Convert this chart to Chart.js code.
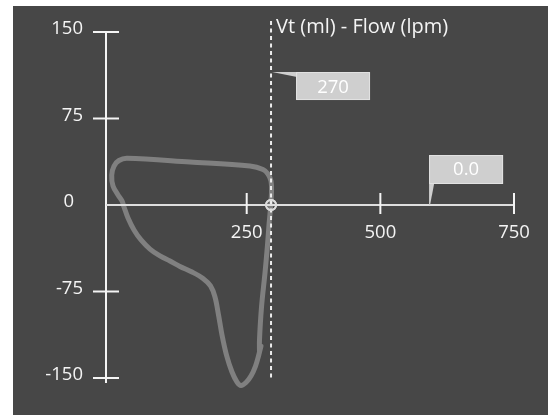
<!DOCTYPE html>
<html>
<head>
<meta charset="utf-8">
<script src="https://cdn.jsdelivr.net/npm/chart.js@4/dist/chart.umd.min.js"></script>
<style>
  html, body { margin: 0; padding: 0; background: #ffffff; }
  #wrap { width: 548px; height: 415px; }
</style>
</head>
<body>
<div id="wrap"><canvas id="c" width="548" height="415"></canvas></div>
<script>
// ---------- data ----------
const chartTitle = "Vt (ml) - Flow (lpm)";
const xTickValues = [250, 500, 750];
const xTickLabels = ["250", "500", "750"];
const yTickValues = [150, 75, 0, -75, -150];
const yTickLabels = ["150", "75", "0", "-75", "-150"];

// Volume (ml) / flow (lpm) loop
const loopVolume = [273.9, 273.9, 277.7, 284.2, 288.9, 291.7, 294.5, 296.4, 295.5, 289.8,
  280.5, 256.2, 143.9, 26.1, 11.1, 1.8, -2.5, -0.1, 9.3, 16.7,
  20.5, 28.0, 39.2, 52.3, 69.1, 87.8, 106.5, 125.2, 147.7, 168.3,
  182.3, 190.7, 197.3, 203.8, 212.2, 222.5, 231.9, 239.3, 248.7, 258.0,
  266.5, 272.1, 276.7];
const loopFlow = [-127.5, -117.1, -88.4, -59.0, -34.7, -17.3, -2.6, 11.3, 20.8, 26.9,
  30.8, 33.8, 37.3, 40.5, 38.6, 33.8, 26.0, 16.5, 8.7, 3.5,
  -1.7, -11.3, -21.7, -30.3, -38.2, -44.2, -48.6, -53.3, -58.1, -63.7,
  -70.2, -79.8, -95.4, -112.7, -130.1, -144.8, -153.5, -156.5, -153.9, -148.3,
  -139.6, -130.9, -122.3];

// cursor
const cursorVolume = [295.5];
const cursorFlow = [0];
const cursorLineFlow = [159.5, -150];
const readoutVolume = "270";
const readoutFlow = "0.0";
const flowReadoutAnchorVolume = 593;
const volumeReadoutAnchorFlow = 115.3;

// ---------- styles ----------
const BG_DARK = "#474747";
const AXIS_COLOR = "#f4f4f4";
const ZERO_COLOR = "#dedede";
const CURVE_COLOR = "#808080";
const FONT = "'Open Sans', 'DejaVu Sans', sans-serif";

const loopData = loopVolume.map((v, i) => ({ x: v, y: loopFlow[i] }));
const cursorData = cursorVolume.map((v, i) => ({ x: v, y: cursorFlow[i] }));
const cursorLine = cursorLineFlow.map(f => ({ x: cursorVolume[0], y: f }));

const backgroundPlugin = {
  id: "bg",
  beforeDraw(chart) {
    const ctx = chart.ctx;
    ctx.save();
    ctx.fillStyle = "#ffffff";
    ctx.fillRect(0, 0, chart.width, chart.height);
    ctx.fillStyle = BG_DARK;
    ctx.fillRect(13, 6, chart.width - 13, chart.height - 6);
    ctx.restore();
  }
};

const axesPlugin = {
  id: "customAxes",
  afterDatasetsDraw(chart) {
    const ctx = chart.ctx;
    const xs = chart.scales.x, ys = chart.scales.y;
    const ca = chart.chartArea;
    const y0 = ys.getPixelForValue(0);
    ctx.save();
    // y axis
    ctx.strokeStyle = AXIS_COLOR;
    ctx.lineWidth = 2;
    ctx.beginPath();
    ctx.moveTo(ca.left, ys.getPixelForValue(yTickValues[0]));
    ctx.lineTo(ca.left, ys.getPixelForValue(yTickValues[yTickValues.length - 1]) + 5);
    ctx.stroke();
    ctx.font = "18.5px " + FONT;
    ctx.fillStyle = AXIS_COLOR;
    ctx.textBaseline = "middle";
    yTickValues.forEach((v, i) => {
      const py = ys.getPixelForValue(v);
      if (v !== 0) {
        ctx.beginPath();
        ctx.moveTo(ca.left - 13, py);
        ctx.lineTo(ca.left + 13, py);
        ctx.stroke();
      }
      ctx.textAlign = "right";
      ctx.fillText(yTickLabels[i], v === 0 ? ca.left - 32 : ca.left - 23, py - 3);
    });
    // x axis (zero line)
    ctx.strokeStyle = ZERO_COLOR;
    ctx.beginPath();
    ctx.moveTo(ca.left, y0);
    ctx.lineTo(xs.getPixelForValue(xTickValues[xTickValues.length - 1]), y0);
    ctx.stroke();
    ctx.strokeStyle = AXIS_COLOR;
    ctx.textAlign = "center";
    xTickValues.forEach((v, i) => {
      const px = xs.getPixelForValue(v);
      ctx.beginPath();
      ctx.moveTo(px, y0 - 12);
      ctx.lineTo(px, y0 + 9);
      ctx.stroke();
      ctx.fillText(xTickLabels[i], px, y0 + 28);
    });
    // title
    ctx.font = "20px " + FONT;
    ctx.textAlign = "left";
    ctx.fillText(chartTitle, xs.getPixelForValue(cursorVolume[0]) + 5, 27);

    // readout callouts
    ctx.font = "18.5px " + FONT;
    ctx.textAlign = "center";
    // volume readout: attached to cursor line
    const ax = xs.getPixelForValue(cursorVolume[0]) + 1;
    const ay = ys.getPixelForValue(volumeReadoutAnchorFlow);
    ctx.fillStyle = "#cfcfcf";
    ctx.beginPath();
    ctx.moveTo(ax, ay);
    ctx.lineTo(ax + 25, ay);
    ctx.lineTo(ax + 25, ay + 5);
    ctx.closePath();
    ctx.fill();
    ctx.fillRect(ax + 24, ay, 74, 28);
    ctx.strokeStyle = "#e2e2e2";
    ctx.lineWidth = 1;
    ctx.strokeRect(ax + 24.5, ay + 0.5, 73, 27);
    ctx.fillStyle = "#ffffff";
    ctx.fillText(readoutVolume, ax + 61, ay + 16);
    // flow readout: attached to volume axis
    const bx = xs.getPixelForValue(flowReadoutAnchorVolume);
    const by = ys.getPixelForValue(0);
    ctx.fillStyle = "#cfcfcf";
    ctx.beginPath();
    ctx.moveTo(bx - 1, by - 21);
    ctx.lineTo(bx + 4, by - 21);
    ctx.lineTo(bx, by);
    ctx.lineTo(bx - 1, by);
    ctx.closePath();
    ctx.fill();
    ctx.fillRect(bx - 1, by - 50, 74, 29);
    ctx.strokeStyle = "#e2e2e2";
    ctx.strokeRect(bx - 0.5, by - 49.5, 73, 28);
    ctx.fillStyle = "#ffffff";
    ctx.fillText(readoutFlow, bx + 36, by - 35);
    ctx.restore();

    // redraw cursor marker on top of axes
    const meta = chart.getDatasetMeta(0);
    meta.data.forEach(el => el.draw(ctx, chart.chartArea));
  }
};

new Chart(document.getElementById("c"), {
  type: "scatter",
  data: {
    datasets: [
      {
        label: "cursor",
        data: cursorData,
        pointRadius: 5,
        pointBorderWidth: 2,
        pointBorderColor: "#dcdcdc",
        pointBackgroundColor: "rgba(0,0,0,0)",
        showLine: false,
        clip: false
      },
      {
        label: "cursorLine",
        data: cursorLine,
        showLine: true,
        borderColor: "#ececec",
        borderWidth: 2,
        borderDash: [4, 3.5],
        pointRadius: 0,
        clip: false
      },
      {
        label: "loop",
        data: loopData,
        showLine: true,
        borderColor: CURVE_COLOR,
        borderWidth: 5,
        borderCapStyle: "round",
        borderJoinStyle: "round",
        tension: 0.35,
        pointRadius: 0,
        clip: false
      }
    ]
  },
  options: {
    responsive: false,
    animation: false,
    devicePixelRatio: 1,
    layout: { padding: { left: 106, right: 34, top: 32, bottom: 37 } },
    plugins: { legend: { display: false }, tooltip: { enabled: false } },
    events: [],
    scales: {
      x: { type: "linear", min: -13.2, max: 750, display: false },
      y: { type: "linear", min: -150, max: 150, display: false }
    }
  },
  plugins: [backgroundPlugin, axesPlugin]
});
</script>
</body>
</html>
